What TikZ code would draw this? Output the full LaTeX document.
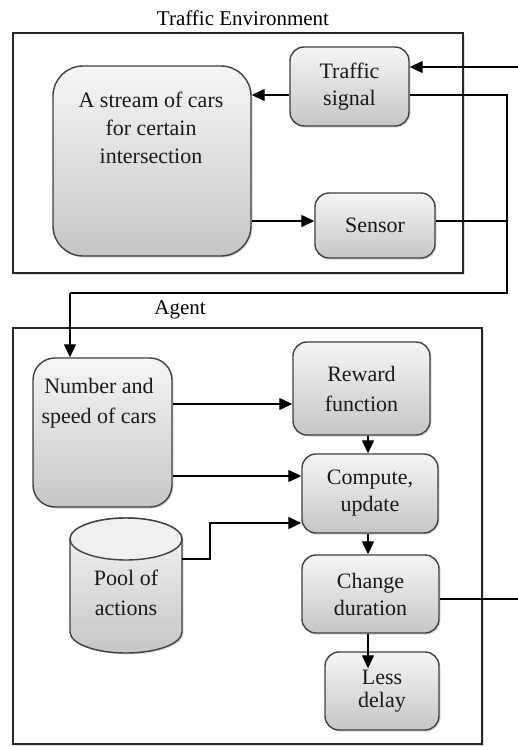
\documentclass[tikz,border=0pt]{standalone}
\usepackage{fontspec}
\setmainfont{Liberation Serif}
\usetikzlibrary{arrows.meta,shadows,calc}
\begin{document}
\begin{tikzpicture}[x=1pt,y=-1pt,
  frame/.style={draw=black!85, fill=white, line width=1.6pt, drop shadow={opacity=0.25,shadow xshift=1.5pt,shadow yshift=-1.5pt}},
  box/.style={draw=black!75, line width=1.4pt, rounded corners=14pt, top color=gray!7, bottom color=gray!45,
     drop shadow={opacity=0.3,shadow xshift=1.5pt,shadow yshift=-1.5pt}, inner sep=0pt, align=center,
     font=\fontsize{22}{27}\selectfont, text=black!90},
  txt/.style={inner sep=0pt, align=center, font=\fontsize{22}{28}\selectfont, text=black!90},
  lbl/.style={inner sep=0pt, font=\fontsize{21}{25}\selectfont},
  arr/.style={line width=1.3pt, -{Triangle[length=13pt,width=12pt]}},
  ln/.style={line width=1.3pt}]
\useasboundingbox (0,0) rectangle (518,747);

% frames
\node[frame, minimum width=450pt, minimum height=240pt, inner sep=0pt] (env) at (238,153) {};
\node[frame, minimum width=469pt, minimum height=416pt, inner sep=0pt] (agent) at (247.5,536) {};
\node[lbl] (envlbl) at (243,18) {Traffic Environment};
\node[lbl] (agentlbl) at (180,310) {Agent};

% environment boxes
\node[box, rounded corners=30pt, minimum width=198pt, minimum height=190pt] (stream) at (152,161) {};
\node[txt] (streamtxt) at (151,128) {A stream of cars\\for certain\\intersection};
\node[box, minimum width=119pt, minimum height=79pt] (sig) at (349.5,86.5) {Traffic\\signal};
\node[box, minimum width=120pt, minimum height=65pt] (sen) at (375,225.5) {Sensor};

% agent boxes
\node[box, rounded corners=22pt, minimum width=139pt, minimum height=149pt] (num) at (102.5,432.5) {};
\node[txt, font=\fontsize{22}{30}\selectfont] (numtxt) at (99,403) {Number and\\speed of cars};
\node[box, minimum width=137pt, minimum height=93pt, font=\fontsize{22}{30}\selectfont] (rw) at (361.5,388.5) {Reward\\function};
\node[box, minimum width=136pt, minimum height=79pt] (cmp) at (370,493.5) {Compute,\\update};
\node[box, minimum width=137pt, minimum height=78pt] (chg) at (370.5,594) {Change\\duration};
\node[box, minimum width=114pt, minimum height=78pt, font=\fontsize{22}{23}\selectfont] (less) at (382,691) {Less\\delay};

% cylinder
\path[draw=black!75, line width=1.4pt, top color=gray!7, bottom color=gray!45,
      drop shadow={opacity=0.3,shadow xshift=1.5pt,shadow yshift=-1.5pt}]
  (70,539) -- (70,632) arc[start angle=180, end angle=360, x radius=56pt, y radius=21pt] -- (182,539)
  arc[start angle=0, end angle=180, x radius=56pt, y radius=21pt] -- cycle;
\draw[draw=black!75, line width=1.4pt, fill=gray!12] (126,539) ellipse [x radius=56pt, y radius=21pt];
\node[txt, font=\fontsize{22}{30}\selectfont] (pool) at (126,593) {Pool of\\actions};
\coordinate (poolR) at (182,559);

% connectors environment
\coordinate (inR) at (518,67);
\draw[arr] (inR) -- (inR -| sig.east);
\draw[arr] ([yshift=-8.5pt]sig.west) -- ([yshift=-8.5pt]sig.west -| stream.east);
\draw[arr] ([yshift=4.5pt]sen.west -| stream.east) -- ([yshift=4.5pt]sen.west);
\coordinate (busTop) at (507,95);
\coordinate (busBot) at (507,293);
\coordinate (turn) at (70,293);
\draw[ln] ([yshift=-8.5pt]sig.east) -- (busTop) -- (busBot) -- (turn);
\draw[arr] (turn) -- (turn |- num.north);
\draw[ln] ([yshift=4.5pt]sen.east) -- ([yshift=4.5pt]sen.east -| busTop);

% connectors agent
\draw[arr] ([yshift=-15.5pt]rw.west -| num.east) -- ([yshift=-15.5pt]rw.west);
\draw[arr] ([yshift=17.5pt]cmp.west -| num.east) -- ([yshift=17.5pt]cmp.west);
\draw[arr] ([xshift=6.5pt]rw.south) -- ([xshift=6.5pt]rw.south |- cmp.north);
\coordinate (bend) at (210,559);
\coordinate (cmpIn) at ([yshift=-29.5pt]cmp.west);
\draw[arr] (poolR) -- (bend) -- (bend |- cmpIn) -- (cmpIn);
\draw[arr] ([xshift=-2pt]cmp.south) -- ([xshift=-2.5pt]chg.north);
\coordinate (outR) at (518,599);
\draw[ln] ([yshift=-5pt]chg.east) -- (outR);
\draw[arr] ([xshift=-14pt]less.north |- chg.south) -- ([xshift=-14pt,yshift=-17pt]less.north);
\end{tikzpicture}
\end{document}
